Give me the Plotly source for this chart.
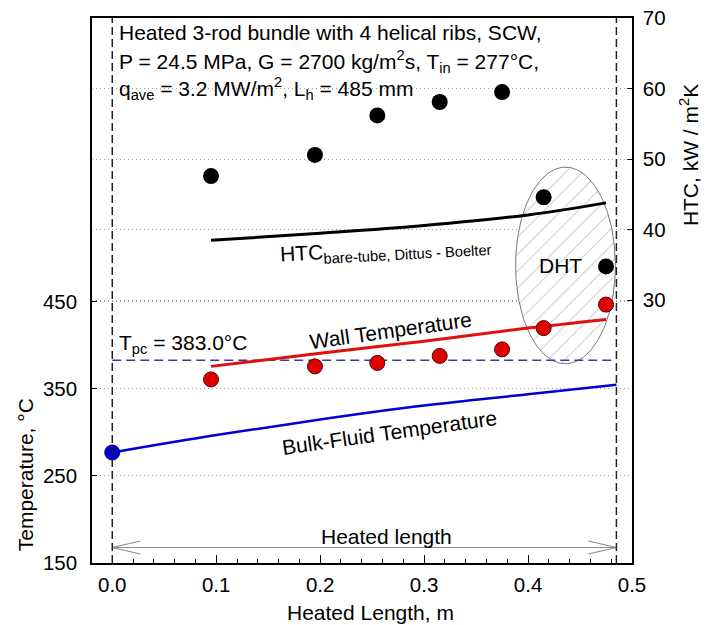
import plotly.graph_objects as go
import numpy as np

# ---------------- data ----------------
# experimental HTC (right axis, kW/m2K)
htc_x = [0.095, 0.195, 0.255, 0.315, 0.375, 0.415, 0.475]
htc_y = [47.6, 50.6, 56.2, 58.1, 59.5, 44.6, 34.8]
# experimental wall temperature (left axis, °C)
tw_x = [0.095, 0.195, 0.255, 0.315, 0.375, 0.415, 0.475]
tw_y = [361, 376, 380, 388, 395.5, 420, 447]
# inlet temperature point
tin_x = [0.0]
tin_y = [277]
# calculated bulk-fluid temperature
tb_x = [0.0, 0.1, 0.2, 0.3, 0.4, 0.485]
tb_y = [277, 297, 315, 331, 344, 355]
# calculated wall temperature
twc_x = [0.095, 0.2, 0.3, 0.4, 0.475]
twc_y = [376, 391, 405, 420, 430]
# Dittus-Boelter HTC
db_x = [0.095, 0.2, 0.3, 0.4, 0.475]
db_y = [38.5, 39.5, 40.6, 42.1, 43.8]
# pseudocritical temperature & heated length
t_pc = 383.0
x_start, x_end = 0.0, 0.485

# axis settings
x_range = [-0.0195, 0.5]
t_range = [150, 776.4]
h_range = [-7.23, 70]
t_ticks = [150, 250, 350, 450]
h_ticks = [30, 40, 50, 60, 70]

FONT = "Arial, Liberation Sans, sans-serif"

fig = go.Figure()

# DHT hatched ellipse
cx, cy = 0.436, 492.0
rx, ry = 0.048, 113.0
th = np.linspace(0, 2 * np.pi, 200)
fig.add_trace(go.Scatter(
    x=cx + rx * np.cos(th), y=cy + ry * np.sin(th),
    mode="lines", fill="toself", line=dict(color="#777", width=1),
    fillcolor="rgba(255,255,255,0)",
    fillpattern=dict(shape="/", fgcolor="#555", bgcolor="white", size=12, solidity=0.07),
    showlegend=False, hoverinfo="skip"))

# Tpc dashed line
fig.add_trace(go.Scatter(x=[x_start, x_end], y=[t_pc, t_pc], mode="lines",
                         line=dict(color="#3a3aa0", width=1.5, dash="9px,5px"),
                         showlegend=False))

# heated length arrow
ah_dx, ah_dy = 0.027, 7.5
ya = 167.8
fig.add_trace(go.Scatter(
    x=[x_start, x_end, None, x_start + ah_dx, x_start, x_start + ah_dx, None,
       x_end - ah_dx, x_end, x_end - ah_dx],
    y=[ya, ya, None, ya + ah_dy, ya, ya - ah_dy, None, ya + ah_dy, ya, ya - ah_dy],
    mode="lines", line=dict(color="#8c8c8c", width=1.2), showlegend=False))

# bulk fluid temperature
fig.add_trace(go.Scatter(x=tb_x, y=tb_y, mode="lines", line=dict(color="#0000d0", width=2.5, shape="spline"),
                         showlegend=False))
# calc wall temperature
fig.add_trace(go.Scatter(x=twc_x, y=twc_y, mode="lines", line=dict(color="#e01010", width=3, shape="spline"),
                         showlegend=False))
# measured wall temperature
fig.add_trace(go.Scatter(x=tw_x, y=tw_y, mode="markers",
                         marker=dict(color="#e00000", size=15, line=dict(color="#500000", width=1)),
                         showlegend=False))
# inlet
fig.add_trace(go.Scatter(x=tin_x, y=tin_y, mode="markers",
                         marker=dict(color="#0000d0", size=15, line=dict(color="#000050", width=1)),
                         showlegend=False))
# Dittus-Boelter HTC
fig.add_trace(go.Scatter(x=db_x, y=db_y, mode="lines", yaxis="y2",
                         line=dict(color="black", width=3, shape="spline"), showlegend=False))
# measured HTC
fig.add_trace(go.Scatter(x=htc_x, y=htc_y, mode="markers", yaxis="y2",
                         marker=dict(color="black", size=16), showlegend=False))

# vertical dashed lines
for xv in (x_start, x_end):
    fig.add_shape(type="line", xref="x", yref="paper", x0=xv, x1=xv, y0=0, y1=1,
                  line=dict(color="#222", width=1.5, dash="8px,4px"))

ann = []
def A(text, x, y, size=21, angle=0, xanchor="center", yanchor="middle"):
    ann.append(dict(text=text, x=x, y=y, xref="paper", yref="paper", showarrow=False,
                    font=dict(size=size, color="black", family=FONT), textangle=angle,
                    xanchor=xanchor, yanchor=yanchor))

A("Heated 3-rod bundle with 4 helical ribs, SCW,", 0.046, 0.974, xanchor="left")
A("P = 24.5 MPa, G = 2700 kg/m<sup>2</sup>s, T<sub>in</sub> = 277°C,", 0.046, 0.921, xanchor="left")
A("q<sub>ave</sub> = 3.2 MW/m<sup>2</sup>, L<sub>h</sub> = 485 mm", 0.046, 0.870, xanchor="left")
A("T<sub>pc</sub> = 383.0°C", 0.046, 0.402, xanchor="left")
A("Wall Temperature", 0.552, 0.427, angle=-8)
A("Bulk-Fluid Temperature", 0.55, 0.24, angle=-8)
A("HTC<sub>bare-tube, Dittus - Boelter</sub>", 0.544, 0.574, angle=-3)
A("DHT", 0.867, 0.545)
A("Heated length", 0.546, 0.049)
A("Temperature, °C", -0.124, 0.161, angle=-90)
A("HTC, kW / m<sup>2</sup>K", 1.107, 0.748, angle=-90)
A("Heated Length, m", 0.515, -0.09)

GRID = dict(showgrid=True, gridcolor="#9a9a9a", griddash="1px,3px", gridwidth=1)

fig.update_layout(
    width=714, height=625,
    margin=dict(l=92, r=82, t=18, b=62),
    plot_bgcolor="white", paper_bgcolor="white",
    font=dict(family=FONT, size=20, color="black"),
    annotations=ann,
    xaxis=dict(range=x_range, tickvals=[0, 0.1, 0.2, 0.3, 0.4, 0.5], tickformat=".1f",
               ticks="inside", ticklen=8, tickcolor="black", showline=True, linecolor="black",
               linewidth=1.5, mirror=True, showgrid=False, zeroline=False, automargin=False,
               minor=dict(ticks="inside", ticklen=4, dtick=0.02, tick0=0, tickcolor="black"),
               tickfont=dict(size=20.5), ticklabelstandoff=3),
    yaxis=dict(range=t_range, tickvals=t_ticks, ticks="inside", ticklen=5, tickcolor="black",
               showline=True, linecolor="black", linewidth=1.5, zeroline=False, automargin=False,
               tickfont=dict(size=20.5), ticklabelstandoff=9, **GRID),
    yaxis2=dict(range=h_range, tickvals=h_ticks, overlaying="y", side="right", ticks="inside",
                ticklen=5, tickcolor="black", showline=True, linecolor="black", linewidth=1.5,
                zeroline=False, automargin=False, tickfont=dict(size=20.5), ticklabelstandoff=5, **GRID),
)

fig.write_html("out.html")
